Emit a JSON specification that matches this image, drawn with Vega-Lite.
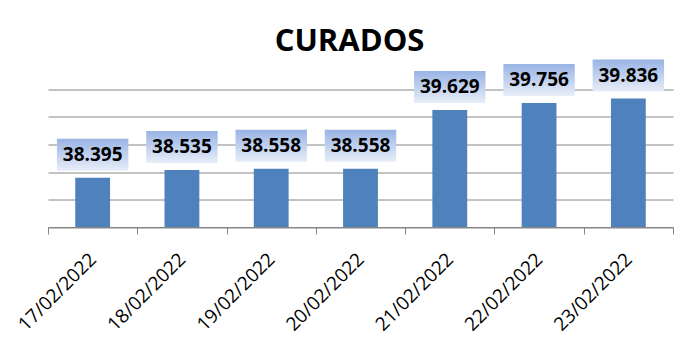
{
  "$schema": "https://vega.github.io/schema/vega-lite/v6.json",
  "autosize": "none",
  "width": 625,
  "height": 137.5,
  "padding": {"left": 48, "top": 89.5, "right": 25, "bottom": 134},
  "background": "white",
  "config": {"view": {"stroke": null}},
  "title": {
    "text": "CURADOS",
    "font": "Open Sans",
    "fontSize": 31,
    "fontWeight": "bold",
    "color": "#000000",
    "anchor": "middle",
    "dx": -11,
    "offset": 2
  },
  "data": {
    "values": [
      {"fecha": "17/02/2022", "curados": 38395, "label": "38.395"},
      {"fecha": "18/02/2022", "curados": 38535, "label": "38.535"},
      {"fecha": "19/02/2022", "curados": 38558, "label": "38.558"},
      {"fecha": "20/02/2022", "curados": 38558, "label": "38.558"},
      {"fecha": "21/02/2022", "curados": 39629, "label": "39.629"},
      {"fecha": "22/02/2022", "curados": 39756, "label": "39.756"},
      {"fecha": "23/02/2022", "curados": 39836, "label": "39.836"}
    ]
  },
  "encoding": {
    "x": {
      "field": "fecha",
      "type": "nominal",
      "sort": null,
      "scale": {"paddingInner": 0, "paddingOuter": 0},
      "axis": {
        "title": null,
        "labelAngle": -45,
        "labelAlign": "right",
        "labelBaseline": "middle",
        "labelFont": "Open Sans",
        "labelFontSize": 19,
        "labelColor": "#000000",
        "labelPadding": 22,
        "tickBand": "extent",
        "tickColor": "#868686",
        "tickSize": 7,
        "tickWidth": 1,
        "domainColor": "#868686",
        "domainWidth": 1,
        "grid": false
      }
    },
    "y": {
      "field": "curados",
      "type": "quantitative",
      "scale": {"domain": [37500, 40000], "zero": false, "nice": false},
      "axis": {
        "title": null,
        "labels": false,
        "ticks": false,
        "domain": false,
        "values": [37500, 38000, 38500, 39000, 39500, 40000],
        "grid": true,
        "gridColor": "#868686",
        "gridWidth": 1
      }
    }
  },
  "layer": [
    {
      "mark": {"type": "bar", "color": "#4F81BD", "width": {"band": 0.39}, "clip": false},
      "encoding": {
        "y2": {"datum": 37500}
      }
    },
    {
      "mark": {
        "type": "bar",
        "width": {"band": 0.8},
        "yOffset": -39,
        "y2Offset": -7,
        "clip": false,
        "color": {
          "gradient": "linear",
          "x1": 0, "y1": 0, "x2": 0, "y2": 1,
          "stops": [
            {"offset": 0, "color": "#98B3E4"},
            {"offset": 1, "color": "#E8EEF8"}
          ]
        }
      },
      "encoding": {
        "y2": {"field": "curados"}
      }
    },
    {
      "mark": {
        "type": "text",
        "font": "Open Sans",
        "fontSize": 19,
        "fontWeight": "bold",
        "color": "#000000",
        "baseline": "middle",
        "yOffset": -23,
        "clip": false
      },
      "encoding": {
        "text": {"field": "label"}
      }
    }
  ]
}
